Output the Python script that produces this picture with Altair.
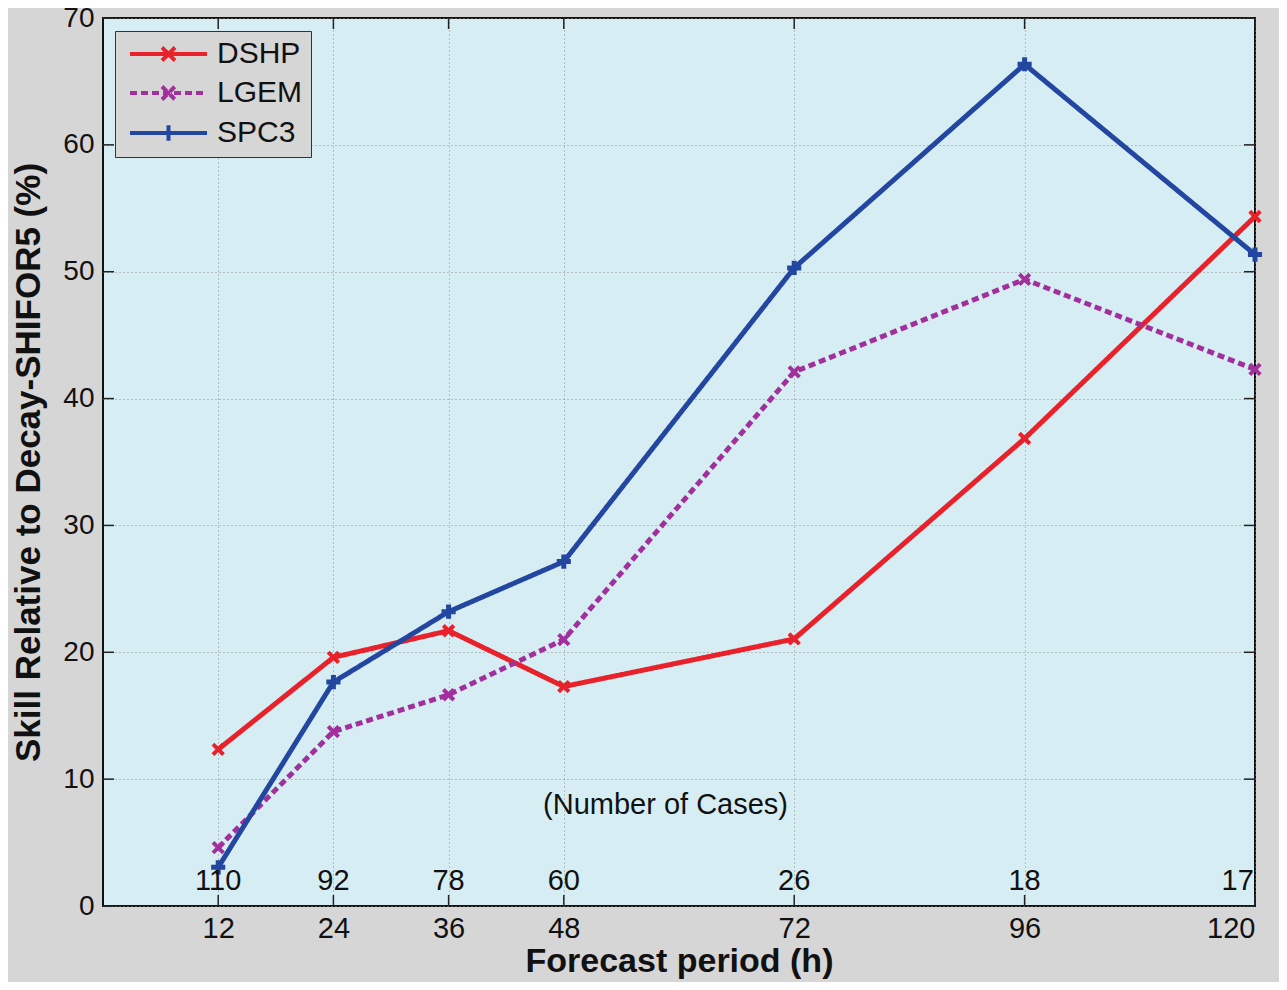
import altair as alt
import pandas as pd

hours = [12, 24, 36, 48, 72, 96, 120]
dshp = [12.35, 19.6, 21.7, 17.3, 21.05, 36.85, 54.35]
lgem = [4.6, 13.75, 16.65, 21.0, 42.1, 49.4, 42.3]
spc3 = [3.05, 17.65, 23.2, 27.15, 50.3, 66.35, 51.35]
series_names = ["DSHP", "LGEM", "SPC3"]
series_colors = ["#e8212a", "#a2309c", "#2347a0"]

cases = ["110", "92", "78", "60", "26", "18", "17"]
case_x = [12, 24, 36, 48, 72, 96, 118.2]
case_y = 2.0
note_text = "(Number of Cases)"
note_x = 58.6
note_y = 8.0

x_ticks = [12, 24, 36, 48, 72, 96, 120]
y_ticks = [0, 10, 20, 30, 40, 50, 60, 70]

W, H = 1152, 888
FONT = "Liberation Sans"

rows = []
for name, vals in zip(series_names, [dshp, lgem, spc3]):
    for h, v in zip(hours, vals):
        rows.append({"hour": h, "skill": v, "series": name})
df = pd.DataFrame(rows)

xscale = alt.Scale(domain=[0, 120], nice=False, zero=False)
yscale = alt.Scale(domain=[0, 70], nice=False)
color_scale = alt.Scale(domain=series_names, range=series_colors)
dash_scale = alt.Scale(domain=series_names, range=[[1, 0], [7, 4], [1, 0]])

x_axis = alt.Axis(values=x_ticks, ticks=False, domain=False, grid=True,
                  gridDash=[1, 3], gridColor="#8a8a8a", gridWidth=1,
                  labelFontSize=29, labelFont=FONT, labelColor="#111",
                  labelPadding=8, title="Forecast period (h)",
                  titleFontSize=34, titleFont=FONT, titleFontWeight="bold",
                  titleColor="#111", titlePadding=1)
y_axis = alt.Axis(values=y_ticks, ticks=False, domain=False, grid=True,
                  gridDash=[1, 3], gridColor="#8a8a8a", gridWidth=1,
                  labelFontSize=28, labelFont=FONT, labelColor="#111",
                  labelPadding=9, title="Skill Relative to Decay-SHIFOR5 (%)",
                  titleFontSize=35, titleFont=FONT, titleFontWeight="bold",
                  titleColor="#111", titlePadding=16)

base = alt.Chart(df)

LEG_D = "M-2.96,0L2.96,0M-0.5,-0.5L0.5,0.5M-0.5,0.5L0.5,-0.5"
LEG_P = "M-2.96,0L2.96,0M0,-0.6L0,0.6"
legend_layer = base.transform_filter("false").mark_point(filled=False, strokeWidth=4).encode(
    x=alt.X("hour:Q", scale=xscale, axis=x_axis),
    y=alt.Y("skill:Q", scale=yscale, axis=y_axis),
    color=alt.Color("series:N", scale=color_scale,
                    legend=alt.Legend(title=None, orient="none", legendX=12, legendY=13,
                                      fillColor="#d6d6d6", strokeColor="#333",
                                      padding=8, labelFontSize=30, labelFont=FONT,
                                      labelColor="#111", symbolSize=676,
                                      symbolStrokeWidth=4, symbolOpacity=1,
                                      rowPadding=9, labelOffset=33.5,
                                      symbolOffset=30.5)),
    strokeDash=alt.StrokeDash("series:N", scale=dash_scale),
    shape=alt.Shape("series:N", scale=alt.Scale(domain=series_names,
                    range=[LEG_D, LEG_D, LEG_P])),
)

lines = base.mark_line(strokeWidth=5).encode(
    x=alt.X("hour:Q", scale=xscale),
    y=alt.Y("skill:Q", scale=yscale),
    color=alt.Color("series:N", scale=color_scale),
    strokeDash=alt.StrokeDash("series:N", scale=dash_scale),
    detail="series:N",
)

X_PATH = "M-1,-1L1,1M-1,1L1,-1"
P_PATH = "M-1,0L1,0M0,-1L0,1"
markers_x = base.transform_filter(alt.datum.series != "SPC3").mark_point(
    filled=False, strokeWidth=4, opacity=1, shape=X_PATH, size=110).encode(
    x=alt.X("hour:Q", scale=xscale),
    y=alt.Y("skill:Q", scale=yscale),
    color=alt.Color("series:N", scale=color_scale),
)
markers_p = base.transform_filter(alt.datum.series == "SPC3").mark_point(
    filled=False, strokeWidth=5, opacity=1, shape=P_PATH, size=200).encode(
    x=alt.X("hour:Q", scale=xscale),
    y=alt.Y("skill:Q", scale=yscale),
    color=alt.Color("series:N", scale=color_scale),
)

tick_df = pd.DataFrame({"t": x_ticks})
ytick_df = pd.DataFrame({"t": y_ticks})
xt_bottom = alt.Chart(tick_df).mark_rule(color="#222", strokeWidth=1.5).encode(
    x=alt.X("t:Q", scale=xscale), y=alt.value(H), y2=alt.value(H - 11))
xt_top = alt.Chart(tick_df).mark_rule(color="#222", strokeWidth=1.5).encode(
    x=alt.X("t:Q", scale=xscale), y=alt.value(0), y2=alt.value(11))
yt_left = alt.Chart(ytick_df).mark_rule(color="#222", strokeWidth=1.5).encode(
    y=alt.Y("t:Q", scale=yscale), x=alt.value(0), x2=alt.value(11))
yt_right = alt.Chart(ytick_df).mark_rule(color="#222", strokeWidth=1.5).encode(
    y=alt.Y("t:Q", scale=yscale), x=alt.value(W), x2=alt.value(W - 11))

case_df = pd.DataFrame({"x": case_x, "label": cases, "y": [case_y] * len(cases)})
case_text = alt.Chart(case_df).mark_text(fontSize=29, font=FONT, color="#111",
                                         baseline="middle", align="center").encode(
    x=alt.X("x:Q", scale=xscale), y=alt.Y("y:Q", scale=yscale), text="label:N")

note_df = pd.DataFrame({"x": [note_x], "y": [note_y], "label": [note_text]})
note = alt.Chart(note_df).mark_text(fontSize=29, font=FONT, color="#111",
                                    baseline="middle", align="center").encode(
    x=alt.X("x:Q", scale=xscale), y=alt.Y("y:Q", scale=yscale), text="label:N")

chart = alt.layer(
    legend_layer, lines, markers_x, markers_p, case_text, note,
    xt_bottom, xt_top, yt_left, yt_right,
).properties(
    width=W, height=H,
    autosize=alt.AutoSizeParams(type="none"),
    padding={"left": 95, "top": 10, "right": 24, "bottom": 76},
    background="#d6d6d6",
).configure_view(
    fill="#d6eef3", stroke="#111", strokeWidth=2,
)

chart.save("out.html", embed_options={"renderer": "svg", "actions": False})
